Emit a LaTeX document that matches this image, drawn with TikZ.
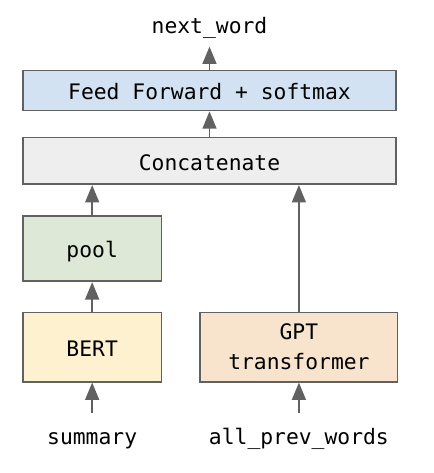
\documentclass[tikz,border=0pt]{standalone}
\usepackage{fontspec}
\setmonofont{DejaVu Sans Mono}
\usepackage{xcolor}
\usepackage{tikz}
\usetikzlibrary{positioning,arrows.meta}

\definecolor{edgegrey}{HTML}{616161}
\definecolor{ffblue}{HTML}{D3E2F3}
\definecolor{catgrey}{HTML}{EEEEEE}
\definecolor{poolgreen}{HTML}{DDE8D6}
\definecolor{bertyellow}{HTML}{FDF1D0}
\definecolor{gptorange}{HTML}{F8E4CD}

\tikzset{
    block/.style={draw=edgegrey, line width=1.3pt, rectangle, align=center,
        font=\ttfamily\fontsize{16}{22.5}\selectfont},
    oneline/.style={text height=14pt, text depth=0pt},
    lbl/.style={inner xsep=0pt, inner ysep=10pt, text height=14pt, text depth=0pt,
        font=\ttfamily\fontsize{16}{22.5}\selectfont},
    flow/.style={draw=edgegrey, line width=1.1pt, -{Triangle[length=13pt,width=10.5pt]}}
}

\begin{document}
\begin{tikzpicture}[x=0.75pt, y=-0.75pt]
    \useasboundingbox (0,0) rectangle (433,473);

    \node[block, oneline, fill=ffblue, minimum width=280pt, minimum height=30pt] (ff) at (209.5,90.5) {Feed Forward + softmax};
    \node[block, oneline, fill=catgrey, minimum width=280pt, minimum height=35pt, below=19pt of ff] (concat) {Concatenate};
    \node[block, oneline, fill=poolgreen, minimum width=104pt, minimum height=49pt, below=22.5pt of concat.south west, anchor=north west] (pool) {pool};
    \node[block, oneline, fill=bertyellow, minimum width=104pt, minimum height=52pt, below=22pt of pool] (bert) {BERT};
    \node[block, fill=gptorange, minimum width=148pt, minimum height=52pt, right=27.75pt of bert] (gpt) {GPT\\transformer};

    \node[lbl, above=17.25pt of ff] (nextword) {next\_word};
    \node[lbl, below=22.5pt of bert] (summary) {summary};
    \node[lbl, below=22.5pt of gpt] (prevwords) {all\_prev\_words};

    \draw[flow] (summary) -- (bert);
    \draw[flow] (prevwords) -- (gpt);
    \draw[flow] (bert) -- (pool);
    \draw[flow] (pool.north) -- (pool.north |- concat.south);
    \draw[flow] (gpt.north) -- (gpt.north |- concat.south);
    \draw[flow] (concat) -- (ff);
    \draw[flow] (ff) -- (nextword);
\end{tikzpicture}
\end{document}
